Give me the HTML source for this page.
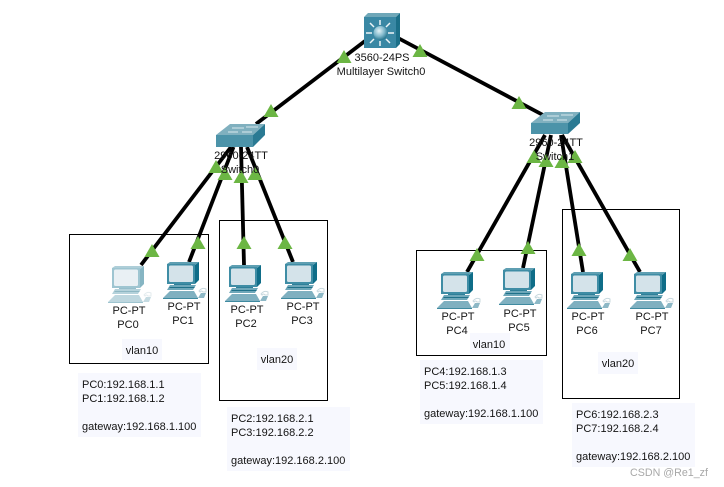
<!DOCTYPE html>
<html><head><meta charset="utf-8"><style>
html,body{margin:0;padding:0;background:#fff;width:724px;height:487px;overflow:hidden}
svg{display:block}
text{font-family:"Liberation Sans",Arial,sans-serif;font-size:11px;fill:#141414}
.c{text-anchor:middle}
</style></head><body>
<svg width="724" height="487" viewBox="0 0 724 487" xmlns="http://www.w3.org/2000/svg">
<defs>
<radialGradient id="ball" cx="0.4" cy="0.35" r="0.7">
<stop offset="0" stop-color="#e4f3f7"/><stop offset="0.55" stop-color="#7fb8cb"/><stop offset="1" stop-color="#1f6f88"/>
</radialGradient>
<g id="pc">
<path d="M-4 36 L3 29 L27 29 L31 36 Z" fill="#7fb0c0"/>
<path d="M-4 36 L31 36 L31 37 L-4 37 Z" fill="#3f8aa0"/>
<path d="M32 29 Q35 25 39 27 L39 30 L36 30 Q34 28 33 30 Z" fill="none" stroke="#c8d8de" stroke-width="1"/>
<path d="M31 36 L34 31 L39 31 L37 36 Z" fill="#8db8c6"/>
<path d="M7 21 L24 21 L24 24 L7 24 Z" fill="#2f7f98"/>
<path d="M3 23 L29 23 L26 28 L0 28 Z" fill="#6ea7b9"/>
<path d="M3 25 L28 25 L27 26 L2 26 Z" fill="#1f7189"/>
<path d="M0 2 L3 0 L32 0 L28 3 Z" fill="#5f9fb2"/>
<path d="M28 3 L32 0 L32 18 L28 22 Z" fill="#0f6d88"/>
<rect x="0" y="2" width="28" height="20" fill="#3f8da5"/>
<rect x="2" y="3.500" width="24" height="16.500" rx="1.500" fill="#d4e3ea"/>
</g>
<path id="t" d="M0 0 L7.500 13 L-7.500 13 Z" fill="#6cb644"/>
</defs>

<!-- vlan boxes -->
<g fill="none" stroke="#000" stroke-width="1">
<rect x="69.500" y="234.500" width="139" height="129"/>
<rect x="219.500" y="220.500" width="108" height="180"/>
<rect x="416.500" y="250.500" width="130" height="105"/>
<rect x="562.500" y="209.500" width="117" height="189"/>
</g>

<!-- note backgrounds -->
<g fill="#f7f8fe">
<rect x="78" y="373" width="123" height="64"/>
<rect x="227" y="407" width="123" height="64"/>
<rect x="420" y="360" width="123" height="64"/>
<rect x="572" y="403" width="123" height="64"/>
<rect x="122" y="339" width="40" height="21"/>
<rect x="257" y="348" width="40" height="22"/>
<rect x="470" y="333" width="40" height="21"/>
<rect x="598" y="352" width="40" height="22"/>
</g>

<!-- links -->
<g stroke="#000" stroke-width="3.800" fill="none">
<line x1="365" y1="41" x2="256" y2="124"/>
<line x1="398" y1="38" x2="543" y2="115"/>
<line x1="231" y1="147" x2="141" y2="265"/>
<line x1="233.500" y1="147" x2="189" y2="262"/>
<line x1="241" y1="147" x2="244" y2="265"/>
<line x1="247" y1="147" x2="293" y2="262"/>
<line x1="545" y1="135" x2="467" y2="272"/>
<line x1="551" y1="135" x2="523" y2="268"/>
<line x1="561" y1="135" x2="583" y2="272"/>
<line x1="562" y1="135" x2="640" y2="272"/>
</g>

<!-- multilayer switch -->
<path d="M364 17 L368 13 L400 13 L396 17 Z" fill="#6fa7b8"/>
<path d="M396 17 L400 13 L400 44 L396 48 Z" fill="#1b6f88"/>
<rect x="364" y="17" width="32" height="31" fill="#3a88a4"/>
<g stroke="#eef6f8" stroke-width="1.500" fill="none">
<path d="M380 20 V25 M380 41 V46 M366 33 H372 M388 33 H394 M370 23 L374 27 M390 23 L386 27 M370 43 L374 39 M390 43 L386 39"/>
</g>
<circle cx="380.500" cy="33" r="7" fill="url(#ball)"/>

<!-- switch0 -->
<path d="M216 135 L230 124 L265 124 L253 135 Z" fill="#80b0bf"/>
<path d="M253 135 L265 124 L265 135 L253 147 Z" fill="#2a7a93"/>
<rect x="216" y="135" width="37" height="12" fill="#4c93a9"/>
<path d="M232 128 H244 M246 127 H258 M228 132 H238 M242 132 H252" stroke="#d8e8ee" stroke-width="1"/>

<!-- switch1 -->
<path d="M531 123 L545 112 L580 112 L568 123 Z" fill="#80b0bf"/>
<path d="M568 123 L580 112 L580 123 L568 134 Z" fill="#2a7a93"/>
<rect x="531" y="123" width="37" height="11" fill="#4c93a9"/>
<path d="M547 116 H559 M561 115 H573 M543 120 H553 M557 120 H567" stroke="#d8e8ee" stroke-width="1"/>

<!-- PCs -->
<use href="#pc" x="112" y="266" opacity="0.5"/>
<use href="#pc" x="167" y="262"/>
<use href="#pc" x="229" y="265"/>
<use href="#pc" x="285" y="262"/>
<use href="#pc" x="441" y="272"/>
<use href="#pc" x="503" y="268"/>
<use href="#pc" x="571" y="272"/>
<use href="#pc" x="634" y="272"/>

<!-- triangles -->
<use href="#t" x="344" y="50"/>
<use href="#t" x="420" y="44"/>
<use href="#t" x="271" y="104"/>
<use href="#t" x="519" y="96"/>
<use href="#t" x="216" y="160"/>
<use href="#t" x="225" y="167"/>
<use href="#t" x="241" y="170"/>
<use href="#t" x="255" y="167"/>
<use href="#t" x="534" y="150"/>
<use href="#t" x="546" y="154"/>
<use href="#t" x="562" y="155"/>
<use href="#t" x="575" y="150"/>
<use href="#t" x="152" y="244"/>
<use href="#t" x="198" y="236"/>
<use href="#t" x="244" y="236"/>
<use href="#t" x="285" y="236"/>
<use href="#t" x="477" y="248"/>
<use href="#t" x="528" y="241"/>
<use href="#t" x="579" y="243"/>
<use href="#t" x="630" y="248"/>

<!-- device labels -->
<text class="c" x="382" y="61">3560-24PS</text>
<text class="c" x="381" y="75">Multilayer Switch0</text>
<text class="c" x="241" y="159">2960-24TT</text>
<text class="c" x="240" y="173">Switch0</text>
<text class="c" x="556" y="146">2960-24TT</text>
<text class="c" x="555" y="160">Switch1</text>

<text class="c" x="129" y="314">PC-PT</text><text class="c" x="128" y="328">PC0</text>
<text class="c" x="184" y="310">PC-PT</text><text class="c" x="183" y="324">PC1</text>
<text class="c" x="247" y="313">PC-PT</text><text class="c" x="246" y="327">PC2</text>
<text class="c" x="303" y="310">PC-PT</text><text class="c" x="302" y="324">PC3</text>
<text class="c" x="458" y="320">PC-PT</text><text class="c" x="457" y="334">PC4</text>
<text class="c" x="520" y="317">PC-PT</text><text class="c" x="519" y="331">PC5</text>
<text class="c" x="588" y="320">PC-PT</text><text class="c" x="587" y="334">PC6</text>
<text class="c" x="652" y="320">PC-PT</text><text class="c" x="651" y="334">PC7</text>

<text class="c" x="142" y="354">vlan10</text>
<text class="c" x="277" y="363">vlan20</text>
<text class="c" x="489" y="348">vlan10</text>
<text class="c" x="618" y="367">vlan20</text>

<!-- notes -->
<text x="82" y="388">PC0:192.168.1.1</text>
<text x="82" y="402">PC1:192.168.1.2</text>
<text x="82" y="430">gateway:192.168.1.100</text>
<text x="231" y="422">PC2:192.168.2.1</text>
<text x="231" y="436">PC3:192.168.2.2</text>
<text x="231" y="464">gateway:192.168.2.100</text>
<text x="424" y="375">PC4:192.168.1.3</text>
<text x="424" y="389">PC5:192.168.1.4</text>
<text x="424" y="417">gateway:192.168.1.100</text>
<text x="576" y="418">PC6:192.168.2.3</text>
<text x="576" y="432">PC7:192.168.2.4</text>
<text x="576" y="460">gateway:192.168.2.100</text>

<text x="630" y="476" style="font-size:10.700px;fill:#a8a8a8">CSDN @Re1_zf</text>
</svg>
</body></html>
